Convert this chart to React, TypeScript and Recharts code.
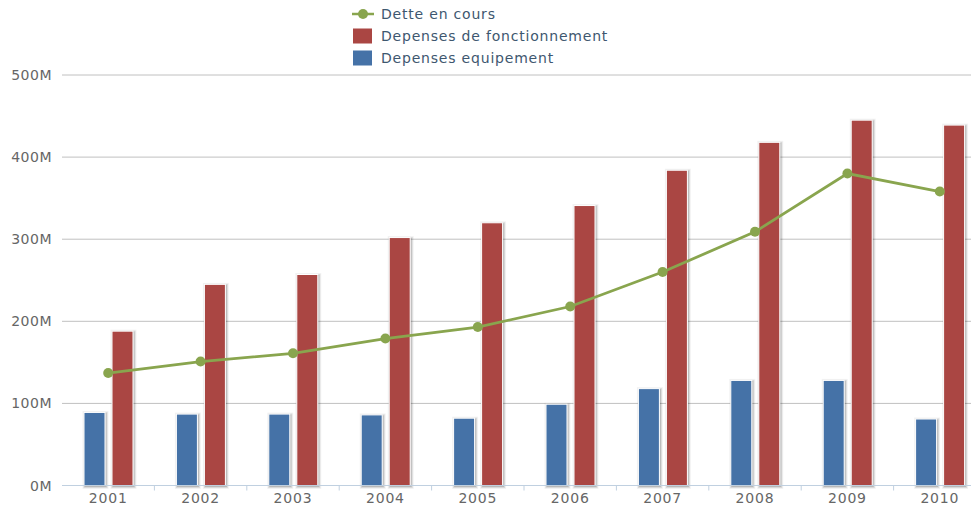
import React from 'react';
import { ComposedChart, Bar, Line, XAxis, YAxis, CartesianGrid, Legend } from 'recharts';

const years = ['2001', '2002', '2003', '2004', '2005', '2006', '2007', '2008', '2009', '2010'];
const equipement = [89, 87, 87, 86, 82, 99, 118, 128, 128, 81];
const fonctionnement = [188, 245, 257, 302, 320, 341, 384, 418, 445, 439];
const dette = [137, 151, 161, 179, 193, 218, 260, 309, 380, 358];
const yTicks = [0, 100, 200, 300, 400, 500];

const BLUE = '#4572A7';
const RED = '#AA4643';
const GREEN = '#89A54E';
const FONT = '"DejaVu Sans", Verdana, sans-serif';

const data = years.map((y, i) => ({
  year: y,
  equipement: equipement[i],
  fonctionnement: fonctionnement[i],
  dette: dette[i],
}));

const BAND = 92.4;
const AXIS_Y = 485.5;

const ShadowBar = (props: any) => {
  const { x, y, width, height, fill } = props;
  if (!height || height <= 0) return null;
  return (
    <g>
      <rect x={x + 1} y={y + 1} width={width} height={height} fill="none" stroke="rgba(0,0,0,0.05)" strokeWidth={5} />
      <rect x={x + 1} y={y + 1} width={width} height={height} fill="none" stroke="rgba(0,0,0,0.1)" strokeWidth={3} />
      <rect x={x + 1} y={y + 1} width={width} height={height} fill="none" stroke="rgba(0,0,0,0.15)" strokeWidth={1} />
      <rect x={x} y={y} width={width} height={height} fill={fill} stroke="#fff" strokeWidth={1} />
    </g>
  );
};

const XTick = (props: any) => {
  const { x, payload, index } = props;
  return (
    <g>
      {index > 0 && (
        <line x1={x - BAND / 2} x2={x - BAND / 2} y1={AXIS_Y} y2={AXIS_Y + 5} stroke="#C0D0E0" strokeWidth={1} />
      )}
      <text x={x} y={503} textAnchor="middle" fill="#666" fontSize={14} fontFamily={FONT} letterSpacing={0.8}>
        {payload.value}
      </text>
    </g>
  );
};

const YTick = (props: any) => {
  const { x, y, payload } = props;
  return (
    <text x={x} y={y} dy={5} textAnchor="end" fill="#666" fontSize={14} fontFamily={FONT} letterSpacing={0.5}>
      {`${payload.value}M`}
    </text>
  );
};

const legendItems = [
  { label: 'Dette en cours', color: GREEN, type: 'line' },
  { label: 'Depenses de fonctionnement', color: RED, type: 'rect' },
  { label: 'Depenses equipement', color: BLUE, type: 'rect' },
];

const LegendContent = () => (
  <div style={{ fontFamily: FONT, fontSize: 14, color: '#3E576F', letterSpacing: 0.8 }}>
    {legendItems.map((it) => (
      <div key={it.label} style={{ height: 22, display: 'flex', alignItems: 'center' }}>
        <svg width={32} height={22} style={{ display: 'block' }}>
          {it.type === 'line' ? (
            <g>
              <line x1={3} x2={25} y1={11} y2={11} stroke={it.color} strokeWidth={2.5} />
              <circle cx={14} cy={11} r={5} fill={it.color} />
            </g>
          ) : (
            <rect x={4} y={3.5} width={19} height={15} fill={it.color} />
          )}
        </svg>
        <span style={{ whiteSpace: 'nowrap' }}>{it.label}</span>
      </div>
    ))}
  </div>
);

export default function App() {
  return (
    <div style={{ position: 'absolute', left: 0, top: 0, width: 971, height: 506, overflow: 'hidden', background: '#fff' }}>
      <ComposedChart
        width={990}
        height={506}
        data={data}
        margin={{ top: 75, right: 4, bottom: 0, left: 0 }}
        barSize={21}
        barGap={7}
      >
        <CartesianGrid horizontal vertical={false} stroke="#C0C0C0" strokeWidth={1} />
        <XAxis
          dataKey="year"
          height={20.5}
          axisLine={{ stroke: '#C0D0E0', strokeWidth: 1 }}
          tickLine={false}
          tick={<XTick />}
          interval={0}
        />
        <YAxis
          width={62}
          domain={[0, 500]}
          ticks={yTicks}
          axisLine={false}
          tickLine={false}
          tickSize={0}
          tickMargin={10}
          tick={<YTick />}
        />
        <Legend
          layout="vertical"
          align="center"
          verticalAlign="middle"
          content={<LegendContent />}
          wrapperStyle={{ top: 3, left: 349, width: 330, height: 66 }}
        />
        <Bar dataKey="equipement" fill={BLUE} shape={<ShadowBar />} isAnimationActive={false} />
        <Bar dataKey="fonctionnement" fill={RED} shape={<ShadowBar />} isAnimationActive={false} />
        <Line
          dataKey="dette"
          stroke={GREEN}
          strokeWidth={2.8}
          dot={{ r: 5, fill: GREEN, stroke: 'none' }}
          activeDot={false}
          isAnimationActive={false}
        />
      </ComposedChart>
    </div>
  );
}
